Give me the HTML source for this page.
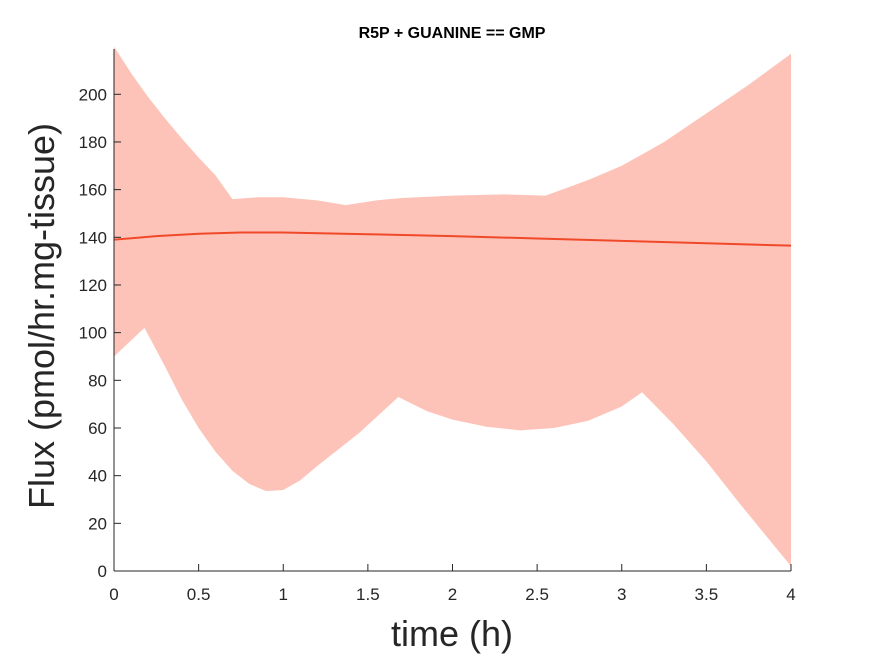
<!DOCTYPE html>
<html><head><meta charset="utf-8"><style>
body{margin:0;background:#fff;}
svg{display:block;font-family:"Liberation Sans",Arial,sans-serif;}
</style></head><body>
<svg id="chart" width="875" height="656" viewBox="0 0 875 656">
<rect width="875" height="656" fill="#fff"/>
<g id="plot"></g>
<g id="axes"></g>
<text x="452" y="38" text-anchor="middle" font-size="16" font-weight="bold" fill="#000">R5P + GUANINE == GMP</text>
<text x="452" y="646" text-anchor="middle" font-size="36" fill="#262626">time (h)</text>
<text transform="translate(54,316) rotate(-90)" text-anchor="middle" font-size="36" fill="#262626">Flux (pmol/hr.mg-tissue)</text>
</svg>
<script>
const upperX=[0,0.1,0.2,0.3,0.4,0.5,0.6,0.7,0.85,1.0,1.2,1.37,1.55,1.7,2.0,2.3,2.55,2.8,3.0,3.25,3.5,3.75,4];
const upperY=[220,209,199,190,181.5,173.5,166,156,156.8,156.8,155.5,153.5,155.5,156.5,157.5,158,157.5,164,170,180,192,204,217];
const lowerX=[0,0.18,0.3,0.4,0.5,0.6,0.7,0.8,0.9,1.0,1.1,1.2,1.45,1.68,1.85,2.0,2.2,2.4,2.6,2.8,3.0,3.12,3.3,3.5,3.7,3.85,4];
const lowerY=[90,102,86,72,60,50,42,36.5,33.5,34,38,44,58,73,67,63.5,60.5,59,60,63,69,75,62,46,28,15,2];
const meanX=[0,0.25,0.5,0.75,1,1.5,2,2.5,3,3.5,4];
const meanY=[139,140.5,141.5,142,142,141.3,140.5,139.5,138.5,137.5,136.5];
const xTicks=[0,0.5,1,1.5,2,2.5,3,3.5,4];
const xTickLabels=["0","0.5","1","1.5","2","2.5","3","3.5","4"];
const yTicks=[0,20,40,60,80,100,120,140,160,180,200];
const yTickLabels=["0","20","40","60","80","100","120","140","160","180","200"];

const X0=114,X1=791,Y0=571,YTOP=49,YMAX=219;
const sx=v=>X0+(X1-X0)*v/4;
const sy=v=>Y0-(Y0-YTOP)*v/YMAX;
const NS="http://www.w3.org/2000/svg";
const plot=document.getElementById('plot'),axes=document.getElementById('axes');

let d="M"+upperX.map((x,i)=>sx(x)+","+sy(upperY[i])).join(" L");
for(let i=lowerX.length-1;i>=0;i--) d+=" L"+sx(lowerX[i])+","+sy(lowerY[i]);
d+=" Z";
const band=document.createElementNS(NS,'path');
band.setAttribute('d',d);band.setAttribute('fill','#fdc3b9');


plot.appendChild(band);

const line=document.createElementNS(NS,'polyline');
line.setAttribute('points',meanX.map((x,i)=>sx(x)+","+sy(meanY[i])).join(" "));
line.setAttribute('fill','none');line.setAttribute('stroke','#f0492a');line.setAttribute('stroke-width','2');


plot.appendChild(line);

function mk(tag,attrs){const e=document.createElementNS(NS,tag);for(const k in attrs)e.setAttribute(k,attrs[k]);axes.appendChild(e);return e;}
const ax=mk('line',{x1:X0,y1:Y0,x2:X1,y2:Y0,stroke:'#262626','stroke-width':1});


const ay=mk('line',{x1:X0,y1:Y0,x2:X0,y2:YTOP,stroke:'#262626','stroke-width':1});


xTicks.forEach((v,i)=>{
  mk('line',{x1:sx(v),y1:Y0,x2:sx(v),y2:Y0-7,stroke:'#262626'});
  const t=mk('text',{x:sx(v),y:Y0+29,'text-anchor':'middle','font-size':17,fill:'#262626'});
  t.textContent=xTickLabels[i];
  
  
});
yTicks.forEach((v,i)=>{
  mk('line',{x1:X0,y1:sy(v),x2:X0+7,y2:sy(v),stroke:'#262626'});
  const t=mk('text',{x:X0-7,y:sy(v)+6,'text-anchor':'end','font-size':17,fill:'#262626'});
  t.textContent=yTickLabels[i];
  
  
});
</script>
</body></html>
